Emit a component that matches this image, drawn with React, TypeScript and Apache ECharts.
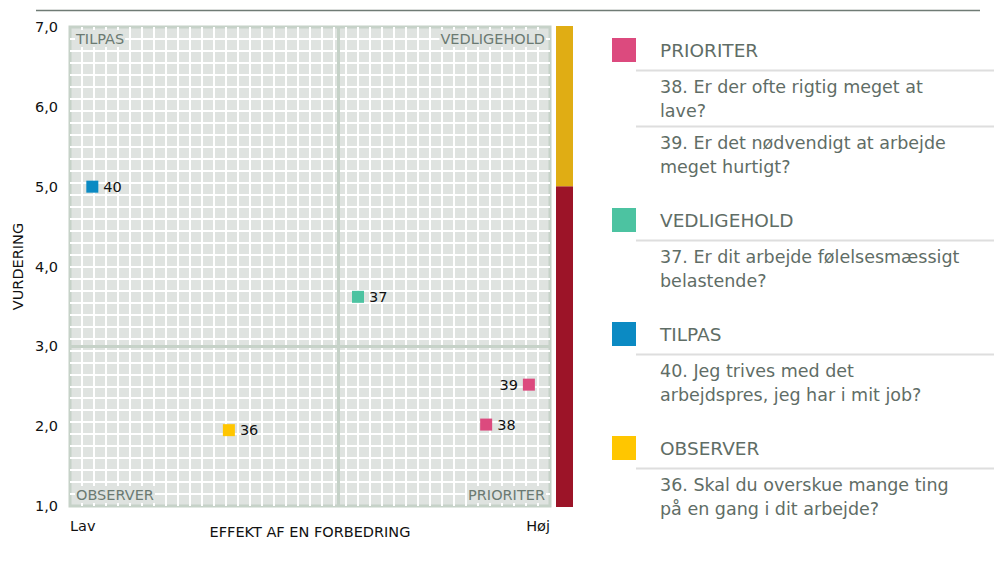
import React, { useEffect, useRef } from 'react';
import * as echarts from 'echarts';

// ---- data ----
const categories = ['PRIORITER', 'VEDLIGEHOLD', 'TILPAS', 'OBSERVER'];
const categoryColors = ['#dc4a7e', '#4cc3a1', '#0b8ac3', '#ffc600'];
const pointIds = ['38', '39', '37', '40', '36'];
const pointCategory = [0, 0, 1, 2, 3];
const effektValues = [86.7, 95.6, 60.0, 4.65, 33.1];
const vurderingValues = [2.02, 2.52, 3.62, 5.0, 1.95];
const labelSides = ['right', 'left', 'right', 'right', 'right'];
const questions = [
  ['38. Er der ofte rigtig meget at\nlave?', '39. Er det nødvendigt at arbejde\nmeget hurtigt?'],
  ['37. Er dit arbejde følelsesmæssigt\nbelastende?'],
  ['40. Jeg trives med det\narbejdspres, jeg har i mit job?'],
  ['36. Skal du overskue mange ting\npå en gang i dit arbejde?'],
];
const quadrantLabels = ['TILPAS', 'VEDLIGEHOLD', 'OBSERVER', 'PRIORITER'];
const xTickLabels = ['Lav', 'Høj'];
const yMin = 1;
const yMax = 7;
const midEffekt = [55.8];
const midVurdering = [3.0];
const bandLower = [5];
const bandUpper = [2];
const xAxisName = 'EFFEKT AF EN FORBEDRING';
const yAxisName = 'VURDERING';

const FONT = '"DejaVu Sans", Verdana, sans-serif';

export default function App() {
  const ref = useRef<HTMLDivElement>(null);

  useEffect(() => {
    if (!ref.current) return;
    const chart = echarts.init(ref.current, null, { renderer: 'svg' });

    const gridL = 70, gridT = 27, gridW = 480, gridH = 479;
    const bg = '#dfe3e0';
    const lineCol = '#c6d2c8';

    const series: any[] = categories.map((cat, ci) => {
      const data: any[] = [];
      pointIds.forEach((id, i) => {
        if (pointCategory[i] !== ci) return;
        data.push({
          value: [effektValues[i], vurderingValues[i]],
          name: id,
          label: { position: labelSides[i] },
        });
      });
      const s: any = {
        type: 'scatter',
        name: cat,
        xAxisIndex: 0,
        yAxisIndex: 0,
        symbol: 'rect',
        symbolSize: 12,
        itemStyle: { color: categoryColors[ci], opacity: 1 },
        z: 5,
        label: {
          show: true,
          formatter: (p: any) => p.name,
          fontSize: 14.5,
          fontFamily: FONT,
          color: '#111',
          distance: 5,
        },
        data,
      };
      if (ci === 0) {
        s.markLine = {
          silent: true,
          symbol: 'none',
          animation: false,
          label: { show: false },
          lineStyle: { color: lineCol, width: 3, type: 'solid', opacity: 1 },
          emphasis: { disabled: true },
          data: [
            ...midEffekt.map((v) => ({ xAxis: v })),
            ...midVurdering.map((v) => ({ yAxis: v })),
          ],
        };
      }
      return s;
    });

    series.push({
      type: 'bar',
      xAxisIndex: 2,
      yAxisIndex: 2,
      stack: 'band',
      barWidth: '100%',
      itemStyle: { color: '#9c1428' },
      silent: true,
      data: bandLower,
    });
    series.push({
      type: 'bar',
      xAxisIndex: 2,
      yAxisIndex: 2,
      stack: 'band',
      barWidth: '100%',
      itemStyle: { color: '#e0ad14' },
      silent: true,
      data: bandUpper,
    });

    // legend graphics
    const legendEls: any[] = [];
    const legendText = '#5f6d66';
    let titleY = 50;
    categories.forEach((cat, gi) => {
      legendEls.push({
        type: 'rect',
        shape: { x: 612, y: titleY - 12, width: 24, height: 24 },
        style: { fill: categoryColors[gi] },
      });
      legendEls.push({
        type: 'text',
        style: {
          text: cat,
          x: 660,
          y: titleY,
          fill: legendText,
          font: `18.5px ${FONT}`,
          textVerticalAlign: 'middle',
          verticalAlign: 'middle',
        },
      });
      let lineY = titleY + 20.5;
      questions[gi].forEach((q, qi) => {
        legendEls.push({
          type: 'line',
          shape: { x1: 636, y1: lineY, x2: 994, y2: lineY },
          style: { stroke: '#dedede', lineWidth: 2 },
        });
        legendEls.push({
          type: 'text',
          style: {
            text: q,
            x: 660,
            y: lineY + 4,
            fill: legendText,
            font: `17.5px ${FONT}`,
            lineHeight: 24.5,
            verticalAlign: 'top',
            textVerticalAlign: 'top',
          },
        });
        const n = q.split('\n').length;
        const end = lineY + 4 + n * 24.5;
        if (qi === questions[gi].length - 1) titleY = end + 40.5;
        else lineY = end + 3;
      });
    });

    const quadPos = [
      { x: gridL + 5, y: gridT + 11.5, align: 'left' },
      { x: gridL + gridW - 4, y: gridT + 11.5, align: 'right' },
      { x: gridL + 5, y: gridT + gridH - 11.5, align: 'left' },
      { x: gridL + gridW - 4, y: gridT + gridH - 11.5, align: 'right' },
    ];
    const quadEls = quadrantLabels.map((t, i) => ({
      type: 'text',
      z: 10,
      style: {
        text: t,
        x: quadPos[i].x,
        y: quadPos[i].y,
        align: quadPos[i].align,
        textAlign: quadPos[i].align,
        verticalAlign: 'middle',
        textVerticalAlign: 'middle',
        fill: '#6b7a72',
        font: `14.5px ${FONT}`,
        backgroundColor: bg,
        padding: [1, 1],
      },
    }));

    const option: any = {
      animation: false,
      grid: [
        {
          left: gridL,
          top: gridT,
          width: gridW,
          height: gridH,
          show: true,
          backgroundColor: bg,
          borderColor: lineCol,
          borderWidth: 3,
        },
        { left: 556, top: 26, width: 17, height: 481 },
      ],
      xAxis: [
        {
          type: 'value',
          gridIndex: 0,
          min: 0,
          max: 100,
          interval: 100,
          axisLine: { show: false },
          axisTick: { show: false },
          splitLine: { show: false },
          axisLabel: {
            formatter: (v: number) => (v === 0 ? xTickLabels[0] : xTickLabels[1]),
            fontSize: 14.5,
            fontFamily: FONT,
            color: '#111',
            margin: 12,
            alignMinLabel: 'left',
            alignMaxLabel: 'right',
          },
          name: xAxisName,
          nameLocation: 'middle',
          nameGap: 18,
          nameMoveOverlap: false,
          nameTextStyle: { fontSize: 14.5, fontFamily: FONT, color: '#111' },
        },
        {
          type: 'value',
          gridIndex: 0,
          min: 0,
          max: 40,
          interval: 1,
          axisLine: { show: false },
          axisTick: { show: false },
          axisLabel: { show: false },
          splitLine: {
            show: true,
            showMinLine: false,
            showMaxLine: false,
            lineStyle: { color: '#ffffff', width: 2 },
          },
        },
        {
          type: 'category',
          gridIndex: 1,
          data: ['band'],
          show: false,
        },
      ],
      yAxis: [
        {
          type: 'value',
          gridIndex: 0,
          min: yMin,
          max: yMax,
          interval: 1,
          axisLine: { show: false },
          axisTick: { show: false },
          splitLine: { show: false },
          axisLabel: {
            formatter: (v: number) => v.toFixed(1).replace('.', ','),
            fontSize: 14.5,
            fontFamily: FONT,
            color: '#111',
            margin: 12,
          },
          name: yAxisName,
          nameLocation: 'middle',
          nameGap: 45,
          nameRotate: 90,
          nameMoveOverlap: false,
          nameTextStyle: { fontSize: 14.5, fontFamily: FONT, color: '#111' },
        },
        {
          type: 'value',
          gridIndex: 0,
          min: 0,
          max: 40,
          interval: 1,
          axisLine: { show: false },
          axisTick: { show: false },
          axisLabel: { show: false },
          splitLine: {
            show: true,
            showMinLine: false,
            showMaxLine: false,
            lineStyle: { color: '#ffffff', width: 2 },
          },
        },
        {
          type: 'value',
          gridIndex: 1,
          min: yMin,
          max: yMax,
          show: false,
          splitLine: { show: false },
        },
      ],
      graphic: [
        {
          type: 'line',
          shape: { x1: 36, y1: 10.5, x2: 980, y2: 10.5 },
          style: { stroke: '#6f7b75', lineWidth: 1.5 },
        },
        ...quadEls,
        ...legendEls,
      ],
      series,
    };

    chart.setOption(option);
    return () => chart.dispose();
  }, []);

  return (
    <div
      ref={ref}
      style={{ position: 'fixed', left: 0, top: 0, width: 994, height: 571, background: '#fff' }}
    />
  );
}
